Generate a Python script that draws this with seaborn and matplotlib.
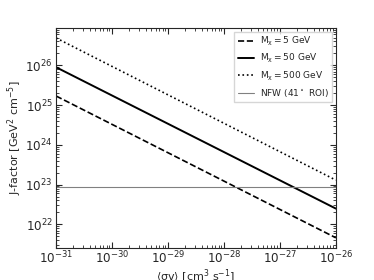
import matplotlib
matplotlib.use("Agg")
import matplotlib.pyplot as plt
import seaborn as sns
import numpy as np
import pandas as pd
from matplotlib.ticker import LogLocator, NullFormatter

sigma_v = [1e-31, 1e-26]
J_5GeV = [1.7e25, 4.6e21]
J_50GeV = [9.0e25, 2.5e22]
J_500GeV = [4.9e26, 1.3e23]
J_NFW = 8.5e22
x_ticks = [1e-31, 1e-30, 1e-29, 1e-28, 1e-27, 1e-26]
y_ticks = [1e22, 1e23, 1e24, 1e25, 1e26]
labels = [r"$\mathregular{M_\chi = 5\ GeV}$", r"$\mathregular{M_\chi = 50\ GeV}$",
          r"$\mathregular{M_\chi = 500\ GeV}$"]
nfw_label = r"NFW (41$^\circ$ ROI)"

sns.set_style("ticks")
plt.rcParams['font.family'] = ['DejaVu Sans']
plt.rcParams['xtick.direction'] = 'in'
plt.rcParams['ytick.direction'] = 'in'

fig, ax = plt.subplots(figsize=(3.74, 2.8), dpi=100)
fig.subplots_adjust(left=0.15, right=0.898, top=0.9, bottom=0.115)

df = pd.DataFrame({
    "sv": sigma_v * 3,
    "J": J_5GeV + J_50GeV + J_500GeV,
    "m": [labels[0]] * 2 + [labels[1]] * 2 + [labels[2]] * 2,
})
styles = {labels[0]: "--", labels[1]: "-", labels[2]: ":"}
widths = {labels[0]: 1.2, labels[1]: 1.4, labels[2]: 1.2}
for lab in labels:
    sub = df[df["m"] == lab]
    sns.lineplot(data=sub, x="sv", y="J", ax=ax, color="black", lw=widths[lab],
                 linestyle=styles[lab], label=lab)
ax.axhline(J_NFW, color="gray", lw=0.8, label=nfw_label)

ax.set_xscale("log")
ax.set_yscale("log")
ax.set_xlim(1e-31, 1e-26)
ax.set_xticks(x_ticks)
ax.set_yticks(y_ticks)
ax.set_xlabel("\u27e8\u03c3v\u27e9 [cm$^3$ s$^{-1}$]", fontsize=8, labelpad=1,
              family=['DejaVu Sans', 'Noto Sans', 'Noto Sans CJK SC'])
ax.set_ylabel(r"J-factor [GeV$^2$ cm$^{-5}$]", fontsize=8, labelpad=1)
ax.tick_params(which="both", direction="in", top=True, right=True, labelsize=8.6)
ax.tick_params(axis="x", which="major", pad=1.5)
ax.tick_params(axis="y", which="major", pad=2.5)
ax.tick_params(which="major", length=4, width=0.8)
ax.tick_params(which="minor", length=2, width=0.6)
ax.xaxis.set_minor_locator(LogLocator(base=10, subs=np.arange(2, 10), numticks=20))
ax.yaxis.set_minor_locator(LogLocator(base=10, subs=np.arange(2, 10), numticks=20))
ax.xaxis.set_minor_formatter(NullFormatter())
ax.yaxis.set_minor_formatter(NullFormatter())
for s in ax.spines.values():
    s.set_linewidth(0.8)

ax.legend(loc="upper right", fontsize=6.5, frameon=True, fancybox=False,
          edgecolor="0.8", handlelength=1.8, handletextpad=0.6, borderpad=0.4,
          labelspacing=0.45, borderaxespad=0.4)

fig.savefig("out.png", dpi=100)
